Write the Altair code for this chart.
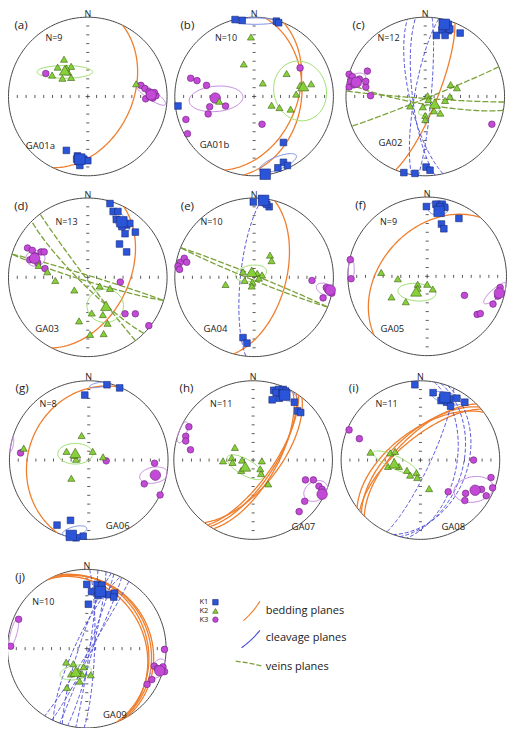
import numpy as np
import pandas as pd
import altair as alt

# ---------------- data ----------------
PANELS = ["a", "b", "c", "d", "e", "f", "g", "h", "i", "j"]
SAMPLES = ["GA01a", "GA01b", "GA02", "GA03", "GA04", "GA05", "GA06", "GA07", "GA08", "GA09"]
N_VALUES = [9, 10, 12, 13, 10, 9, 8, 11, 11, 10]

# principal axes, projected (equal-area, lower hemisphere) east/north coordinates on the unit net
K1 = {
    "a": [(-0.27, -0.68), (-0.13, -0.75), (-0.09, -0.77), (-0.12, -0.82), (-0.08, -0.81), (-0.10, -0.87), (-0.05, -0.79), (0.0, -0.81), (-0.14, -0.79)],
    "b": [(-0.24, 0.97), (-0.15, 0.96), (0.28, 0.95), (0.31, 0.93), (-0.96, -0.12), (0.37, -0.58), (0.37, -0.83), (0.42, -0.87), (0.30, -0.90)],
    "c": [(0.22, 0.93), (0.29, 0.91), (0.21, 0.84), (0.29, 0.83), (0.14, 0.77), (0.25, 0.77), (0.44, 0.80), (-0.27, -0.96), (-0.13, -0.97), (0.01, -0.89), (0.06, -0.93), (0.31, 0.85)],
    "d": [(0.28, 0.93), (0.32, 0.83), (0.38, 0.83), (0.36, 0.73), (0.45, 0.70), (0.49, 0.66), (0.53, 0.68), (0.47, 0.55), (0.60, 0.57), (0.40, 0.42), (0.49, 0.32), (0.43, 0.64)],
    "e": [(-0.01, 0.95), (0.10, 0.99), (0.14, 0.94), (0.19, 0.89), (0.16, 0.92), (-0.14, -0.76), (-0.09, -0.83)],
    "f": [(-0.01, 0.88), (0.11, 0.91), (0.19, 0.91), (0.22, 0.87), (0.16, 0.88), (0.40, 0.73), (0.18, 0.66), (0.21, 0.60)],
    "g": [(0.23, 0.95), (0.39, 0.91), (-0.05, 0.82), (-0.40, -0.82), (-0.23, -0.76), (-0.16, -0.98), (-0.07, -0.96)],
    "h": [(0.26, 0.88), (0.32, 0.89), (0.38, 0.89), (0.24, 0.76), (0.33, 0.78), (0.52, 0.73), (0.56, 0.62), (0.60, 0.60), (0.29, 0.85), (0.36, 0.84), (0.41, 0.87)],
    "i": [(-0.07, 0.95), (0.16, 0.85), (0.28, 0.79), (0.37, 0.77), (0.33, 0.73), (0.38, 0.68), (0.46, 0.78), (0.56, 0.73), (0.26, 0.75)],
    "j": [(0.0, 0.81), (0.13, 0.81), (0.19, 0.80), (0.06, 0.72), (0.14, 0.67), (0.27, 0.68), (0.35, 0.70), (0.34, 0.65), (0.02, 0.56), (0.20, 0.70)],
}
K1_MEAN = {"a": (-0.10, -0.79), "b": (0.14, -0.98), "c": (0.24, 0.91), "d": (0.43, 0.70), "e": (0.12, 0.97),
           "f": (0.15, 0.82), "g": (-0.22, -0.95), "h": (0.40, 0.82), "i": (0.31, 0.79), "j": (0.17, 0.72)}

K2 = {
    "a": [(-0.30, 0.47), (-0.38, 0.37), (-0.21, 0.38), (-0.25, 0.31), (-0.45, 0.27), (-0.32, 0.23), (-0.21, 0.24), (0.61, 0.16), (-0.27, 0.36)],
    "b": [(-0.04, 0.75), (-0.13, 0.41), (0.11, 0.17), (0.41, 0.29), (0.58, 0.14), (0.72, 0.16), (0.53, 0.03), (0.22, -0.11), (0.32, -0.14), (0.46, -0.16), (-0.44, -0.06)],
    "c": [(0.32, 0.15), (0.40, 0.11), (0.31, 0.0), (0.25, -0.05), (0.03, 0.01), (-0.03, -0.13), (-0.19, -0.12), (0.11, -0.18), (0.19, -0.21), (0.0, -0.24), (0.0, -0.29), (0.04, -0.04)],
    "d": [(-0.62, 0.15), (-0.51, 0.07), (-0.41, -0.04), (-0.17, -0.16), (0.15, -0.11), (0.28, -0.14), (0.05, -0.45), (0.19, -0.47), (-0.11, -0.55), (0.25, -0.58), (0.03, -0.72), (0.20, -0.71)],
    "e": [(0.20, 0.28), (0.22, 0.21), (-0.36, -0.09), (-0.14, 0.07), (-0.12, -0.04), (0.04, 0.05), (0.10, 0.03), (0.06, -0.01), (-0.02, -0.06), (-0.03, -0.11)],
    "f": [(-0.58, 0.05), (-0.37, -0.03), (-0.12, -0.10), (0.0, -0.10), (0.07, -0.16), (-0.12, -0.15), (-0.45, -0.26), (-0.27, -0.32)],
    "g": [(-0.82, 0.15), (-0.09, 0.31), (-0.28, 0.11), (-0.16, 0.01), (0.05, 0.11), (0.18, 0.04), (-0.22, -0.23), (-0.18, 0.06)],
    "h": [(-0.23, 0.16), (-0.38, -0.01), (-0.27, 0.03), (-0.26, -0.03), (-0.14, 0.0), (-0.15, -0.13), (0.11, -0.01), (0.09, -0.11), (0.10, -0.17), (0.19, -0.30)],
    "i": [(-0.63, 0.10), (-0.38, 0.09), (-0.32, 0.11), (-0.41, -0.08), (-0.27, -0.08), (-0.17, -0.13), (-0.13, -0.19), (-0.05, -0.16), (-0.04, -0.22), (0.11, -0.36)],
    "j": [(-0.26, -0.17), (-0.17, -0.19), (-0.04, -0.23), (-0.20, -0.32), (-0.06, -0.32), (0.05, -0.33), (-0.09, -0.41), (-0.25, -0.49), (-0.11, -0.28)],
}
K2_MEAN = {"a": (-0.29, 0.33), "b": (0.62, 0.13), "c": (0.12, -0.09), "d": (0.23, -0.36), "e": (-0.03, 0.07),
           "f": (-0.14, -0.19), "g": (-0.17, 0.09), "h": (-0.10, -0.08), "i": (-0.33, -0.04), "j": (-0.14, -0.29)}

K3 = {
    "a": [(0.67, 0.14), (0.72, 0.10), (0.77, 0.06), (0.73, -0.03), (0.82, -0.02), (0.86, 0.01), (0.78, 0.0), (0.84, 0.05), (-0.53, 0.29)],
    "b": [(-0.80, 0.23), (-0.72, 0.20), (-0.60, 0.14), (-0.56, -0.13), (-0.36, -0.12), (-0.58, -0.22), (-0.86, -0.29), (-0.84, -0.47), (0.10, -0.35), (0.58, 0.36)],
    "c": [(-0.96, 0.28), (-0.92, 0.25), (-0.73, 0.32), (-0.75, 0.12), (-0.96, 0.12), (-0.75, 0.19), (-0.69, 0.01), (-0.94, 0.19), (0.84, -0.35), (-0.83, 0.22), (-0.90, 0.15)],
    "d": [(-0.76, 0.37), (-0.70, 0.34), (-0.59, 0.32), (-0.55, 0.32), (-0.73, 0.22), (-0.63, 0.18), (-0.54, 0.11), (0.41, -0.06), (0.47, -0.46), (0.60, -0.46), (0.77, -0.61), (-0.66, 0.27)],
    "e": [(-0.93, 0.19), (-0.88, 0.24), (-0.85, 0.19), (-0.96, 0.14), (-0.94, 0.10), (0.73, -0.04), (0.87, -0.26), (0.93, -0.16), (0.98, -0.20), (0.91, -0.13)],
    "f": [(-0.97, 0.21), (-0.96, -0.03), (0.47, -0.24), (0.83, -0.35), (0.63, -0.48), (0.67, -0.47), (0.92, -0.14), (0.89, -0.25)],
    "g": [(-0.86, 0.09), (0.22, -0.01), (0.83, -0.04), (0.70, -0.30), (0.90, -0.44)],
    "h": [(-0.81, 0.42), (-0.85, 0.30), (-0.85, 0.24), (-0.79, 0.13), (0.66, -0.25), (0.76, -0.25), (0.83, -0.33), (0.87, -0.37), (0.65, -0.52), (0.58, -0.65)],
    "i": [(-0.90, 0.38), (-0.77, 0.27), (0.67, 0.0), (0.35, -0.40), (0.57, -0.42), (0.56, -0.51), (0.77, -0.37), (0.83, -0.45), (0.89, -0.22), (0.91, -0.35)],
    "j": [(-0.86, 0.37), (-0.96, 0.03), (0.98, -0.01), (0.85, -0.22), (0.89, -0.25), (0.96, -0.23), (0.98, -0.29), (0.82, -0.39), (0.76, -0.45)],
}
K3_MEAN = {"a": (0.80, 0.02), "b": (-0.49, -0.02), "c": (-0.87, 0.18), "d": (-0.67, 0.24), "e": (0.96, -0.16),
           "f": (0.91, -0.21), "g": (0.84, -0.19), "h": (0.87, -0.43), "i": (0.69, -0.38), "j": (0.92, -0.28)}

# confidence ellipses: (centre east, centre north, semi-axis a, semi-axis b, rotation deg)
ELL_K1 = {"b": [(0.30, -0.84, 0.25, 0.08, 22), (0.02, 0.95, 0.28, 0.04, 0)], "c": [(0.26, 0.86, 0.10, 0.06, 60)],
          "d": [(0.42, 0.70, 0.15, 0.07, -55)], "f": [(0.14, 0.86, 0.13, 0.09, 0)],
          "g": [(0.14, 0.95, 0.13, 0.03, 10), (-0.18, -0.90, 0.16, 0.06, 15)], "h": [(0.39, 0.83, 0.17, 0.07, -20)],
          "i": [(0.34, 0.78, 0.20, 0.07, -15)], "j": [(0.18, 0.70, 0.16, 0.05, -5)]}
ELL_K2 = {"a": [(-0.29, 0.31, 0.35, 0.08, 0)], "b": [(0.58, 0.07, 0.38, 0.33, 105)], "c": [(0.05, -0.17, 0.14, 0.06, 15)],
          "d": [(0.22, -0.36, 0.23, 0.21, 0)], "e": [(-0.04, 0.05, 0.20, 0.10, 10)], "f": [(-0.13, -0.20, 0.24, 0.11, -5)],
          "g": [(-0.17, 0.08, 0.22, 0.13, 0)], "h": [(-0.10, -0.09, 0.26, 0.10, -30)], "i": [(-0.32, -0.03, 0.30, 0.08, -25)],
          "j": [(-0.14, -0.30, 0.20, 0.09, 10)]}
ELL_K3 = {"a": [(0.79, 0.03, 0.23, 0.06, -35)], "b": [(-0.48, -0.03, 0.34, 0.16, 5)], "c": [(-0.87, 0.20, 0.13, 0.08, 30)],
          "d": [(-0.66, 0.24, 0.12, 0.10, 0)], "e": [(0.90, -0.15, 0.12, 0.07, -20)],
          "f": [(-0.96, 0.09, 0.14, 0.04, 90), (0.87, -0.21, 0.20, 0.06, 40)],
          "g": [(0.82, -0.19, 0.18, 0.10, 10), (-0.98, 0.20, 0.10, 0.03, 80)],
          "h": [(-0.89, 0.35, 0.14, 0.05, 70), (0.79, -0.39, 0.16, 0.12, 30)], "i": [(0.67, -0.37, 0.25, 0.16, 10)],
          "j": [(-0.92, 0.20, 0.18, 0.04, 75), (0.90, -0.25, 0.13, 0.08, 60)]}

# planes as (strike, dip), right-hand rule
BEDDING = {"a": [(26, 44)], "b": [(8, 40), (22, 45)], "c": [(22, 78)], "d": [(27, 48)], "e": [(15, 57)],
           "f": [(222, 42)], "g": [(203, 25)], "h": [(30, 66), (33, 68), (35, 70), (38, 64)],
           "i": [(228, 62), (225, 65), (230, 68), (233, 60)], "j": [(335, 22), (338, 25), (330, 20), (333, 28)]}
CLEAVAGE = {"c": [(167, 74), (190, 79), (173, 77), (5, 84)], "e": [(186, 76)],
            "i": [(25, 80), (15, 45), (20, 40), (10, 52)],
            "j": [(2, 82), (8, 87), (14, 84), (20, 88), (26, 85), (32, 87), (198, 82), (205, 78)]}
VEINS = {"c": [(94, 88), (100, 82), (68, 88)], "d": [(287, 88), (107, 86), (143, 88), (135, 82)],
         "e": [(292, 88), (112, 87)]}

LEGEND_K = ["K1", "K2", "K3"]
LEGEND_PLANES = ["bedding planes", "cleavage planes", "veins planes"]

# ---------------- layout ----------------
CENTER_X = [84, 256, 433, 84, 256, 435, 85, 255, 428, 83]
CENTER_Y = [90, 90, 90, 277, 277, 276, 466, 466, 466, 661]
RADIUS = 82
LABEL_OFF = (-69, -73)
NLAB_OFF = [(-35, -60), (-29, -60), (-38, -60), (-22, -57), (-44, -57), (-40, -56), (-42, -58), (-33, -58), (-35, -58), (-45, -48)]
SAMPLE_OFF = [(-49, 51), (-41, 50), (-36, 48), (-42, 53), (-40, 53), (-36, 54), (30, 68), (52, 69), (34, 69), (29, 69)]

W, H = 500, 720
S = 0.967
X0, Y0 = 1.5, -1.5


def page(p, x, y):
    i = PANELS.index(p)
    return CENTER_X[i] + RADIUS * x, CENTER_Y[i] - RADIUS * y


def plane_xy(strike, dip, n=121):
    s = np.radians(strike)
    d = np.radians(dip)
    dd = s + np.pi / 2
    t = np.linspace(0, np.pi, n)
    sv = np.array([np.sin(s), np.cos(s), 0.0])
    dv = np.array([np.sin(dd) * np.cos(d), np.cos(dd) * np.cos(d), np.sin(d)])
    v = np.outer(np.cos(t), sv) + np.outer(np.sin(t), dv)
    f = 1.0 / np.sqrt(1.0 + v[:, 2])
    return v[:, 0] * f, v[:, 1] * f


def ellipse_xy(cx, cy, a, b, ang, n=73):
    t = np.linspace(0, 2 * np.pi, n)
    c, s = np.cos(np.radians(ang)), np.sin(np.radians(ang))
    x = cx + a * np.cos(t) * c - b * np.sin(t) * s
    y = cy + a * np.cos(t) * s + b * np.sin(t) * c
    r = np.hypot(x, y)
    k = np.where(r > 1.0, 1.0 / r, 1.0)
    return x * k, y * k


# primitive circles
rows = []
for p in PANELS:
    t = np.linspace(0, 2 * np.pi, 181)
    for k, tt in enumerate(t):
        px, py = page(p, np.cos(tt), np.sin(tt))
        rows.append(dict(gid=p, k=k, px=px, py=py))
circ_df = pd.DataFrame(rows)

# ticks along the diameters
rows = []
for p in PANELS:
    i = PANELS.index(p)
    cx, cy = CENTER_X[i], CENTER_Y[i]
    step = RADIUS / 9.0
    for j in list(range(-8, 0)) + list(range(1, 9)):
        rows.append(dict(px=cx + j * step, py=cy - 1.6, px2=cx + j * step, py2=cy + 1.6))
        rows.append(dict(px=cx - 1.6, py=cy + j * step, px2=cx + 1.6, py2=cy + j * step))
    rows.append(dict(px=cx - 2.2, py=cy, px2=cx + 2.2, py2=cy))
    rows.append(dict(px=cx, py=cy - 2.2, px2=cx, py2=cy + 2.2))
tick_df = pd.DataFrame(rows)


def curves(source, fn):
    rows = []
    for p, items in source.items():
        for m, item in enumerate(items):
            xs, ys = fn(*item)
            for k, (x, y) in enumerate(zip(xs, ys)):
                px, py = page(p, x, y)
                rows.append(dict(gid=f"{p}{m}", k=k, px=px, py=py))
    return pd.DataFrame(rows)


bed_df = curves(BEDDING, plane_xy)
clv_df = curves(CLEAVAGE, plane_xy)
vein_df = curves(VEINS, plane_xy)
e1_df = curves(ELL_K1, ellipse_xy)
e2_df = curves(ELL_K2, ellipse_xy)
e3_df = curves(ELL_K3, ellipse_xy)


def points(src, mean, small, big):
    rows = []
    for p in PANELS:
        for x, y in src[p]:
            px, py = page(p, x, y)
            rows.append(dict(px=px, py=py, sz=small))
        px, py = page(p, *mean[p])
        rows.append(dict(px=px, py=py, sz=big))
    return pd.DataFrame(rows)


k1_df = points(K1, K1_MEAN, 44, 110)
k2_df = points(K2, K2_MEAN, 50, 120)
k3_df = points(K3, K3_MEAN, 44, 110)

# text labels
rows_n, rows_lab, rows_cnt, rows_smp = [], [], [], []
for i, p in enumerate(PANELS):
    cx, cy = CENTER_X[i], CENTER_Y[i]
    rows_n.append(dict(px=cx, py=cy - RADIUS - 3.5, t="N"))
    rows_lab.append(dict(px=cx + LABEL_OFF[0], py=cy + LABEL_OFF[1], t=f"({p})"))
    rows_cnt.append(dict(px=cx + NLAB_OFF[i][0], py=cy + NLAB_OFF[i][1], t=f"N={N_VALUES[i]}"))
    rows_smp.append(dict(px=cx + SAMPLE_OFF[i][0], py=cy + SAMPLE_OFF[i][1], t=SAMPLES[i]))

# legend
LEG_K_X, LEG_K_Y, LEG_SYM_X = 204, [613, 622, 631], 216
LEG_TXT_X, LEG_TXT_Y = 268, [622, 650, 680]
leg_k_txt = pd.DataFrame(dict(px=[LEG_K_X] * 3, py=LEG_K_Y, t=LEGEND_K))
leg_p_txt = pd.DataFrame(dict(px=[LEG_TXT_X] * 3, py=LEG_TXT_Y, t=LEGEND_PLANES))
leg_sym = [pd.DataFrame(dict(px=[LEG_SYM_X], py=[y], sz=[30])) for y in LEG_K_Y]


def leg_curve(x0, y0, x1, y1, bend, gid):
    t = np.linspace(0, 1, 11)
    mx, my = (x0 + x1) / 2, (y0 + y1) / 2
    nx, ny = -(y1 - y0), (x1 - x0)
    L = np.hypot(nx, ny)
    cx, cy = mx + bend * nx / L, my + bend * ny / L
    xs = (1 - t) ** 2 * x0 + 2 * (1 - t) * t * cx + t ** 2 * x1
    ys = (1 - t) ** 2 * y0 + 2 * (1 - t) * t * cy + t ** 2 * y1
    return pd.DataFrame(dict(gid=gid, k=np.arange(11), px=xs, py=ys))


leg_bed = leg_curve(245, 632, 262, 612, 2, "lb")
leg_clv = leg_curve(243, 660, 262, 642, 2, "lc")
leg_vein = leg_curve(237, 674, 264, 679, -1, "lv")

# ---------------- chart ----------------
xs_ = alt.Scale(domain=[X0, X0 + W / S], nice=False, zero=False)
ys_ = alt.Scale(domain=[Y0, Y0 + H / S], nice=False, zero=False, reverse=True)
X = alt.X("px:Q", scale=xs_, axis=None)
Y = alt.Y("py:Q", scale=ys_, axis=None)

FONT = "Open Sans"
C_K1, C_K2, C_K3 = "#2b55d9", "#86d13a", "#c24ad6"
C_BED, C_CLV, C_VEIN = "#ef7f2e", "#5050d8", "#7ba23a"


def lines(df, color, width, dash=None, opacity=1.0):
    kw = dict(color=color, strokeWidth=width, opacity=opacity)
    if dash:
        kw["strokeDash"] = dash
    return alt.Chart(df).mark_line(**kw).encode(x=X, y=Y, detail="gid:N", order="k:Q")


def texts(df, size, align="center", weight="normal"):
    return alt.Chart(df).mark_text(font=FONT, fontSize=size, align=align, baseline="middle",
                                   color="#1a1a1a", fontWeight=weight).encode(x=X, y=Y, text="t:N")


def syms(df, shape, fill, stroke):
    return alt.Chart(df).mark_point(shape=shape, filled=True, fill=fill, stroke=stroke, strokeWidth=0.6,
                                    opacity=1).encode(x=X, y=Y, size=alt.Size("sz:Q", scale=None))


layers = [
    lines(circ_df, "#4a4a4a", 1.0),
    alt.Chart(tick_df).mark_rule(color="#333333", strokeWidth=0.8).encode(x=X, y=Y, x2="px2:Q", y2="py2:Q"),
    lines(bed_df, C_BED, 1.3),
    lines(clv_df, C_CLV, 1.0, [4, 2]),
    lines(vein_df, C_VEIN, 1.3, [6, 2]),
    lines(e1_df, "#7f8fe3", 1.0),
    lines(e2_df, "#9ee070", 1.0),
    lines(e3_df, "#c68ae0", 1.0),
    syms(k3_df, "circle", C_K3, "#6a1f78"),
    syms(k2_df, "triangle-up", C_K2, "#3f5e12"),
    syms(k1_df, "square", C_K1, "#1b2a7a"),
    texts(pd.DataFrame(rows_n), 9),
    texts(pd.DataFrame(rows_lab), 11.5),
    texts(pd.DataFrame(rows_cnt), 9),
    texts(pd.DataFrame(rows_smp), 9.5),
    texts(leg_k_txt, 7.5, align="center"),
    syms(leg_sym[0], "square", C_K1, "#1b2a7a"),
    syms(leg_sym[1], "triangle-up", C_K2, "#3f5e12"),
    syms(leg_sym[2], "circle", C_K3, "#6a1f78"),
    lines(leg_bed, C_BED, 1.2),
    lines(leg_clv, C_CLV, 1.2),
    lines(leg_vein, C_VEIN, 1.3, [5, 2]),
    texts(leg_p_txt, 11, align="left"),
]

chart = alt.layer(*layers).properties(
    width=W, height=H, padding=0, autosize=alt.AutoSizeParams(type="none")
).configure_view(strokeWidth=0)

chart.save("out.html", embed_options={"renderer": "svg", "actions": False})
